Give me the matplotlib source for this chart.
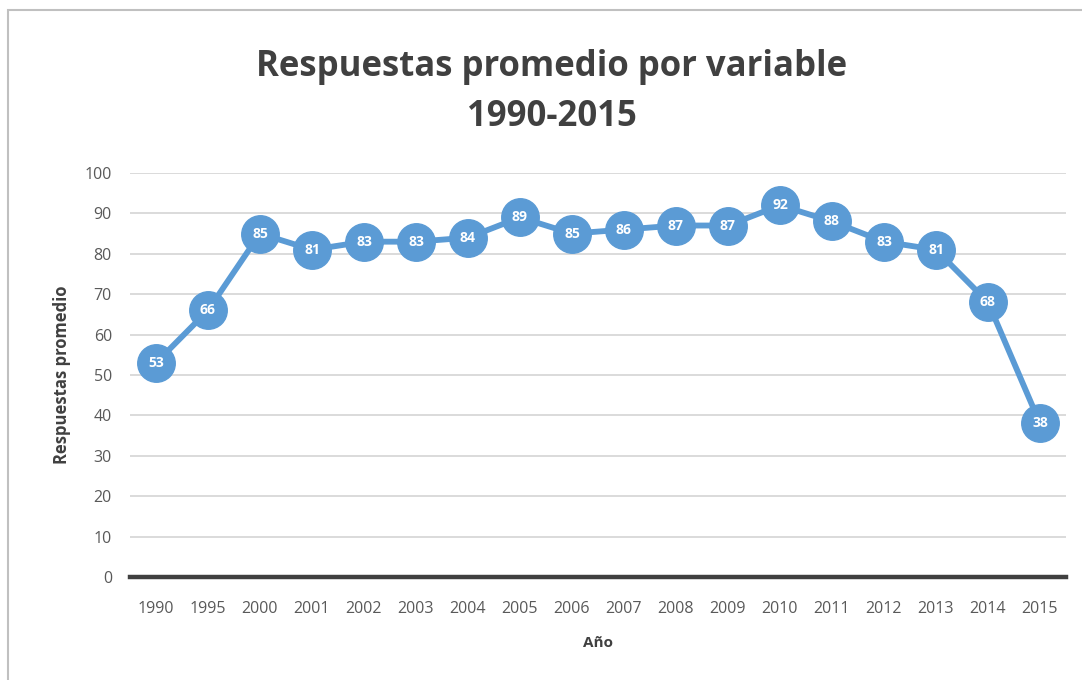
import matplotlib
matplotlib.use("Agg")
import matplotlib.pyplot as plt
from matplotlib.patches import Rectangle

plt.rcParams['font.family'] = ['Open Sans', 'DejaVu Sans']

years = ['1990', '1995', '2000', '2001', '2002', '2003', '2004', '2005', '2006',
         '2007', '2008', '2009', '2010', '2011', '2012', '2013', '2014', '2015']
values = [53, 66, 85, 81, 83, 83, 84, 89, 85, 86, 87, 87, 92, 88, 83, 81, 68, 38]
yticks = [0, 10, 20, 30, 40, 50, 60, 70, 80, 90, 100]

blue = '#5b9bd5'
text_col = '#595959'

fig = plt.figure(figsize=(10.82, 6.8), dpi=100)
fig.patch.set_facecolor('white')

# chart frame (only top and left edges visible in the crop)
fig.patches.append(Rectangle((8 / 1082, -0.1), 1.2, 1 - 10 / 680 + 0.1,
                             transform=fig.transFigure, fill=False,
                             edgecolor='#c0c0c0', linewidth=1.5))

ax = fig.add_axes([130 / 1082, 1 - 577 / 680, (1066 - 130) / 1082, (577 - 173) / 680])
x = list(range(len(years)))
ax.plot(x, values, color=blue, linewidth=4.2, marker='o', markersize=27,
        markerfacecolor=blue, markeredgecolor=blue, zorder=3, clip_on=False)
for xi, v in zip(x, values):
    ax.text(xi, v, str(v), color='white', fontsize=10, fontweight='bold',
            ha='center', va='center', zorder=4)

ax.set_xlim(-0.5, len(years) - 0.5)
ax.set_ylim(0, 100)
ax.set_yticks(yticks)
ax.set_xticks(x)
ax.set_xticklabels(years)
ax.grid(axis='y', color='#d4d4d4', linewidth=1.2)
ax.set_axisbelow(True)
for s in ['top', 'right', 'left']:
    ax.spines[s].set_visible(False)
ax.spines['bottom'].set_color('#404040')
ax.spines['bottom'].set_linewidth(3.2)
ax.tick_params(axis='both', length=0, colors=text_col, labelsize=11.5)
ax.tick_params(axis='y', pad=13)
ax.tick_params(axis='x', pad=17)

ax.set_ylabel('Respuestas promedio', fontsize=12, fontweight='bold', color='#404040', labelpad=10)
ax.set_xlabel('Año', fontsize=11, fontweight='bold', color='#404040', labelpad=14)

fig.text(552 / 1082, 1 - 92 / 680, 'Respuestas promedio por variable\n1990-2015',
         ha='center', va='center', fontsize=25, fontweight='bold', color='#404040',
         linespacing=1.55)

fig.savefig('out.png', dpi=100)
